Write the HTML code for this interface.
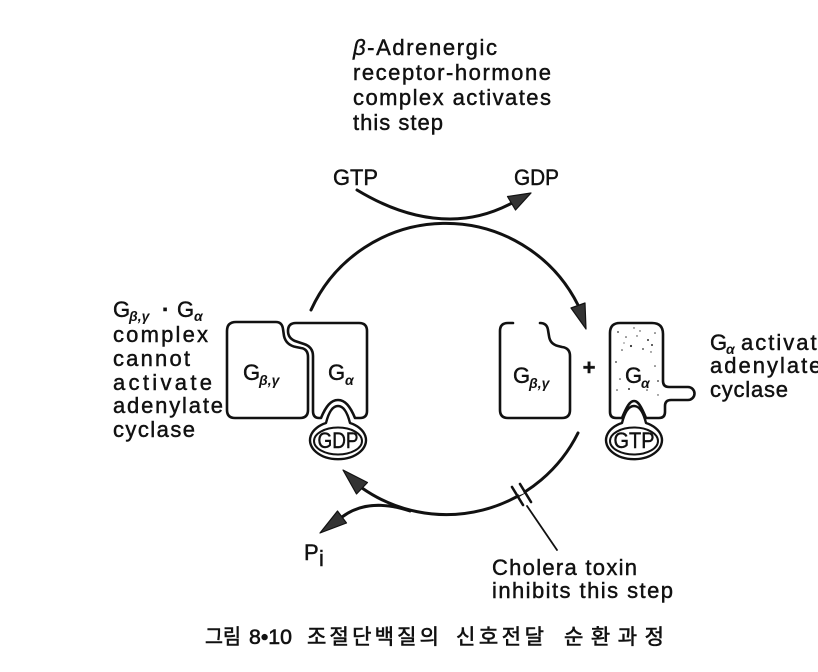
<!DOCTYPE html>
<html>
<head>
<meta charset="utf-8">
<style>
  html, body { margin: 0; padding: 0; background: #fff; }
  body { width: 818px; height: 672px; overflow: hidden; }
  svg { display: block; }
  .t { font-family: "Liberation Sans", sans-serif; font-size: 22px; fill: #111; stroke: #111; stroke-width: 0.45px; }
  .sub { font-family: "Liberation Sans", sans-serif; font-size: 14px; font-weight: bold; font-style: italic; fill: #111; }
  .cap { font-family: "Liberation Sans", "Noto Sans CJK KR", "NanumGothic", sans-serif; font-size: 21px; font-weight: normal; fill: #111; stroke: #111; stroke-width: 0.6px; }
</style>
</head>
<body>
<svg width="818" height="672" viewBox="0 0 818 672" xmlns="http://www.w3.org/2000/svg">
  <rect x="0" y="0" width="818" height="672" fill="#fff"/>

  <!-- Top annotation -->
  <text class="t" y="55" textLength="144" lengthAdjust="spacing"><tspan x="353" font-style="italic">β</tspan><tspan>-Adrenergic</tspan></text>
  <text class="t" x="353" y="80" textLength="198" lengthAdjust="spacing">receptor-hormone</text>
  <text class="t" x="353" y="105" textLength="198" lengthAdjust="spacing">complex activates</text>
  <text class="t" x="353" y="130" textLength="90" lengthAdjust="spacing">this step</text>

  <text class="t" x="333" y="185" textLength="45" lengthAdjust="spacingAndGlyphs">GTP</text>
  <text class="t" x="514" y="185" textLength="45" lengthAdjust="spacingAndGlyphs">GDP</text>

  <!-- GTP -> GDP arc -->
  <path d="M 357 190 C 390 210, 420 219, 450 219 C 475 219, 495 212, 512 203" fill="none" stroke="#111" stroke-width="3" stroke-linecap="round"/>
  <polygon points="531,193 515.5,210 507.5,196.5" fill="#333" stroke="#111" stroke-width="1.2" stroke-linejoin="round"/>

  <!-- main upper arc -->
  <path d="M 311 310 A 148 148 0 0 1 578 305" fill="none" stroke="#111" stroke-width="3" stroke-linecap="round"/>
  <polygon points="586,329 585,303 571,308" fill="#333" stroke="#111" stroke-width="1.2" stroke-linejoin="round"/>

  <!-- lower arc -->
  <path d="M 578 433 A 147 147 0 0 1 362 488" fill="none" stroke="#111" stroke-width="3" stroke-linecap="round"/>
  <polygon points="343,470 367.5,482.5 356.5,494" fill="#333" stroke="#111" stroke-width="1.2" stroke-linejoin="round"/>

  <!-- Pi branch -->
  <path d="M 410 511 C 386 503, 362 502, 342 517" fill="none" stroke="#111" stroke-width="3" stroke-linecap="round"/>
  <polygon points="320,533 337.5,511 346.5,523" fill="#333" stroke="#111" stroke-width="1.2" stroke-linejoin="round"/>

  <!-- Cholera toxin block marks -->
  <line x1="518" y1="493" x2="523" y2="491" stroke="#fff" stroke-width="5"/>
  <line x1="512" y1="487" x2="523" y2="505" stroke="#111" stroke-width="2.6" stroke-linecap="round"/>
  <line x1="520" y1="484" x2="531" y2="502" stroke="#111" stroke-width="2.6" stroke-linecap="round"/>
  <line x1="527" y1="506" x2="557" y2="550" stroke="#111" stroke-width="1.8" stroke-linecap="round"/>

  <text class="t" x="492" y="575" textLength="145" lengthAdjust="spacing">Cholera toxin</text>
  <text class="t" x="492" y="598" textLength="181" lengthAdjust="spacing">inhibits this step</text>

  <!-- Pi -->
  <text class="t" x="304" y="560">P</text>
  <text class="t" x="319" y="566" font-size="13">i</text>

  <!-- Left label -->
  <text class="t" x="113" y="317">G</text>
  <text class="sub" x="129" y="321">β,γ</text>
  <text class="t" x="162" y="317" font-weight="bold">·</text>
  <text class="t" x="177" y="317">G</text>
  <text class="sub" x="194" y="321">α</text>
  <text class="t" x="113" y="342" textLength="95" lengthAdjust="spacing">complex</text>
  <text class="t" x="113" y="366" textLength="77" lengthAdjust="spacing">cannot</text>
  <text class="t" x="113" y="390" textLength="99" lengthAdjust="spacing">activate</text>
  <text class="t" x="113" y="413" textLength="110" lengthAdjust="spacing">adenylate</text>
  <text class="t" x="113" y="437" textLength="82" lengthAdjust="spacing">cyclase</text>

  <!-- Right label -->
  <text class="t" x="710" y="350">G</text>
  <text class="sub" x="726" y="354">α</text>
  <text class="t" x="741" y="350" letter-spacing="2">activates</text>
  <text class="t" x="710" y="373" letter-spacing="2">adenylate</text>
  <text class="t" x="710" y="397" textLength="78" lengthAdjust="spacing">cyclase</text>

  <!-- LEFT COMPLEX -->
  <path d="M 236 322 L 276 322 Q 282 322 283 329 L 284 336 Q 286 345 296 347 L 301 348 Q 308 349 308 357 L 308 410 Q 308 418 300 418 L 235 418 Q 227 418 227 410 L 227 331 Q 227 322 236 322 Z" fill="#fff" stroke="#111" stroke-width="2.6" stroke-linejoin="round"/>
  <path d="M 296 323 L 359 323 Q 367 323 367 331 L 367 411 Q 367 418 360 418 L 355 418 C 350 406 345 400 338 400 C 331 400 326 406 321 418 L 319 418 Q 313 418 313 411 L 313 356 Q 313 347 304 344 L 295 341 Q 288 338 288 331 Q 288 323 296 323 Z" fill="#fff" stroke="#111" stroke-width="2.6" stroke-linejoin="round"/>
  <path d="M 326 423 C 329 411 333 406 338 406 C 343 406 347 411 350 423 A 28 19 0 1 1 326 423 Z" fill="#fff" stroke="#111" stroke-width="2.4" stroke-linejoin="round"/>
  <ellipse cx="338" cy="441" rx="24" ry="13.5" fill="none" stroke="#111" stroke-width="2"/>
  <text class="t" x="338" y="448" font-size="18" text-anchor="middle" textLength="41" lengthAdjust="spacingAndGlyphs">GDP</text>

  <text class="t" x="243" y="380">G</text>
  <text class="sub" x="259" y="385">β,γ</text>
  <text class="t" x="328" y="380">G</text>
  <text class="sub" x="345" y="385">α</text>

  <!-- RIGHT SIDE -->
  <path d="M 513 323 L 508 323 Q 500 323 500 331 L 500 410 Q 500 418 508 418 L 562 418 Q 570 418 570 410 L 570 356 Q 570 348 562 347 L 558 346 Q 550 344 549 336 L 548 330 Q 547 323 540 323" fill="none" stroke="#111" stroke-width="2.6" stroke-linejoin="round" stroke-linecap="round"/>
  <text class="t" x="513" y="383">G</text>
  <text class="sub" x="529" y="388">β,γ</text>

  <text class="t" x="589" y="375" font-size="19" font-weight="bold" text-anchor="middle">+</text>

  <path d="M 620 323 L 652 323 Q 663 323 663 334 L 663 381 Q 663 387 669 387 L 688 387 A 6.5 6.5 0 0 1 688 400 L 671 400 Q 665 400 665 406 L 665 412 Q 665 418 659 418 L 646 418 C 641 406 638 401 634 401 C 630 401 627 406 622 418 L 616 418 Q 610 418 610 412 L 610 333 Q 610 323 620 323 Z" fill="#fff" stroke="#111" stroke-width="2.6" stroke-linejoin="round"/>
  <g fill="#333">
    <circle cx="618" cy="332" r="0.9"/><circle cx="626" cy="337" r="0.8"/><circle cx="640" cy="331" r="0.7"/>
    <circle cx="648" cy="340" r="1"/><circle cx="655" cy="333" r="0.8"/><circle cx="631" cy="346" r="1.1"/>
    <circle cx="622" cy="350" r="0.8"/><circle cx="643" cy="349" r="0.9"/><circle cx="651" cy="352" r="0.7"/>
    <circle cx="616" cy="362" r="0.9"/><circle cx="620" cy="379" r="0.8"/><circle cx="629" cy="389" r="1"/>
    <circle cx="655" cy="366" r="0.8"/><circle cx="658" cy="381" r="0.9"/><circle cx="647" cy="390" r="0.8"/>
    <circle cx="637" cy="336" r="0.7"/><circle cx="652" cy="345" r="1"/><circle cx="617" cy="390" r="0.8"/>
    <circle cx="624" cy="343" r="0.6"/><circle cx="634" cy="328" r="0.7"/><circle cx="658" cy="395" r="0.7"/>
  </g>
  <path d="M 622 423 C 625 411 629 406 634 406 C 639 406 643 411 646 423 A 28 19 0 1 1 622 423 Z" fill="#fff" stroke="#111" stroke-width="2.4" stroke-linejoin="round"/>
  <ellipse cx="634" cy="441" rx="24" ry="13.5" fill="none" stroke="#111" stroke-width="2"/>
  <text class="t" x="634" y="448" font-size="18" text-anchor="middle" textLength="41" lengthAdjust="spacingAndGlyphs">GTP</text>

  <text class="t" x="625" y="383">G</text>
  <text class="sub" x="641" y="388">α</text>

  <!-- Caption -->
  <text class="cap" x="205" y="644" textLength="36" lengthAdjust="spacingAndGlyphs">그림</text>
  <text class="cap" x="249" y="644" textLength="43" lengthAdjust="spacingAndGlyphs">8•10</text>
  <text class="cap" x="307" y="644" textLength="132" lengthAdjust="spacing">조절단백질의</text>
  <text class="cap" x="456" y="644" textLength="88" lengthAdjust="spacing">신호전달</text>
  <text class="cap" x="564" y="644" textLength="100" lengthAdjust="spacing">순환과정</text>
</svg>
</body>
</html>
